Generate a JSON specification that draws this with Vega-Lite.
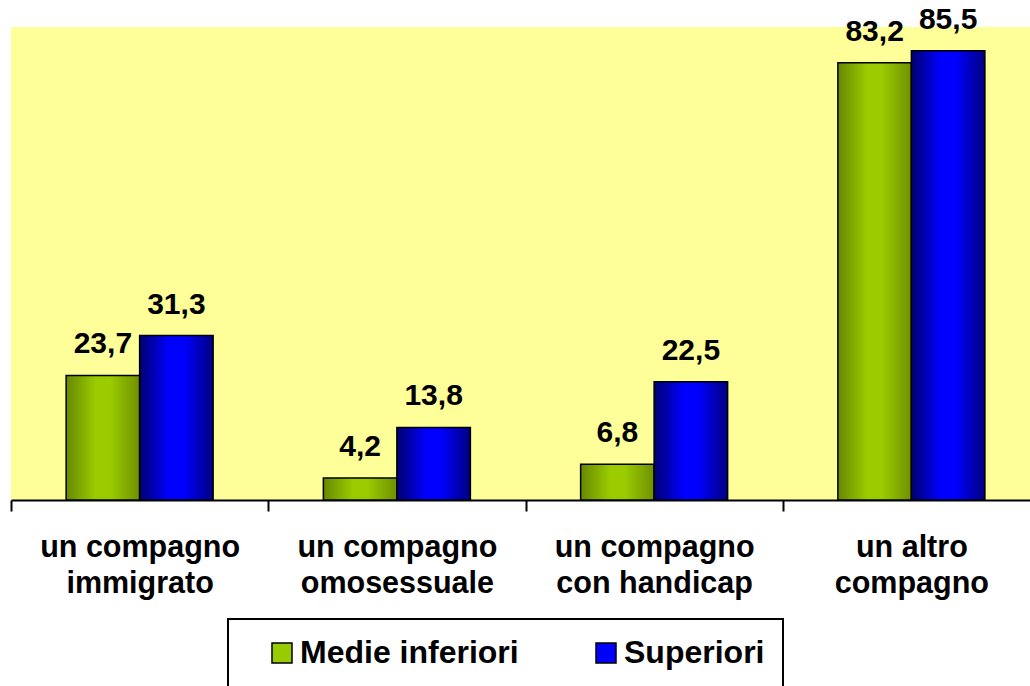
{
  "$schema": "https://vega.github.io/schema/vega-lite/v6.json",
  "width": 1019,
  "height": 473,
  "autosize": {"type": "none"},
  "padding": {"left": 11, "top": 27, "right": 0, "bottom": 186},
  "background": "white",
  "config": {
    "view": {"fill": "#FFFF99", "stroke": null},
    "font": "Liberation Sans",
    "legend": {"strokeWidth": 2},
    "locale": {"number": {"decimal": ",", "thousands": ".", "grouping": [3], "currency": ["", " €"]}}
  },
  "data": {
    "values": [
      {"cat": "un compagno|immigrato", "series": "Medie inferiori", "value": 23.7},
      {"cat": "un compagno|immigrato", "series": "Superiori", "value": 31.3},
      {"cat": "un compagno|omosessuale", "series": "Medie inferiori", "value": 4.2},
      {"cat": "un compagno|omosessuale", "series": "Superiori", "value": 13.8},
      {"cat": "un compagno|con handicap", "series": "Medie inferiori", "value": 6.8},
      {"cat": "un compagno|con handicap", "series": "Superiori", "value": 22.5},
      {"cat": "un altro|compagno", "series": "Medie inferiori", "value": 83.2},
      {"cat": "un altro|compagno", "series": "Superiori", "value": 85.5}
    ]
  },
  "encoding": {
    "x": {
      "field": "cat", "type": "nominal", "sort": null,
      "scale": {"range": [0, 1029], "paddingInner": 0, "paddingOuter": 0},
      "axis": {
        "title": null, "labelExpr": "split(datum.label, '|')", "labelAngle": 0,
        "labelFontSize": 30.5, "labelFontWeight": "bold", "labelColor": "black",
        "labelLineHeight": 36, "labelPadding": 21, "labelBaseline": "top", "labelLimit": 400,
        "tickSize": 11, "tickColor": "black", "tickWidth": 2,
        "domainColor": "black", "domainWidth": 2, "tickBand": "extent", "grid": false
      }
    },
    "xOffset": {
      "field": "series", "type": "nominal", "sort": ["Medie inferiori", "Superiori"],
      "scale": {"paddingInner": 0, "paddingOuter": 0.75}
    },
    "y": {"field": "value", "type": "quantitative", "scale": {"domain": [0, 90]}, "axis": null}
  },
  "layer": [
    {
      "mark": {"type": "bar"},
      "encoding": {
        "fill": {
          "field": "series", "type": "nominal", "sort": ["Medie inferiori", "Superiori"],
          "scale": {"range": ["#99CC00", "#0000FF"]},
          "legend": {
            "title": null, "orient": "none", "legendX": 217, "legendY": 592,
            "direction": "horizontal",
            "labelFontSize": 32, "labelFontWeight": "bold", "labelColor": "black",
            "labelOffset": 2, "columnPadding": 51, "padding": 18, "labelLimit": 400,
            "symbolType": "square", "symbolSize": 400, "symbolStrokeColor": "black",
            "symbolStrokeWidth": 1.5, "symbolOffset": 20,
            "strokeColor": "black", "fillColor": "white"
          }
        }
      }
    },
    {
      "transform": [{"filter": "datum.series === 'Medie inferiori'"}],
      "mark": {
        "type": "bar", "stroke": "black", "strokeWidth": 1.5,
        "fill": {"gradient": "linear", "x1": 0, "x2": 1, "y1": 0, "y2": 0,
          "stops": [
            {"offset": 0, "color": "#668800"},
            {"offset": 0.4, "color": "#9ACC00"},
            {"offset": 0.6, "color": "#9ACC00"},
            {"offset": 1, "color": "#6E9000"}
          ]}
      },
      "encoding": {}
    },
    {
      "transform": [{"filter": "datum.series === 'Superiori'"}],
      "mark": {
        "type": "bar", "stroke": "black", "strokeWidth": 1.5,
        "fill": {"gradient": "linear", "x1": 0, "x2": 1, "y1": 0, "y2": 0,
          "stops": [
            {"offset": 0, "color": "#000070"},
            {"offset": 0.4, "color": "#0000FF"},
            {"offset": 0.6, "color": "#0000FF"},
            {"offset": 1, "color": "#000080"}
          ]}
      },
      "encoding": {}
    },
    {
      "mark": {"type": "text", "dy": -22, "baseline": "alphabetic", "fontSize": 30, "fontWeight": "bold", "color": "black"},
      "encoding": {"text": {"field": "value", "type": "quantitative", "format": ".1f"}}
    }
  ]
}
